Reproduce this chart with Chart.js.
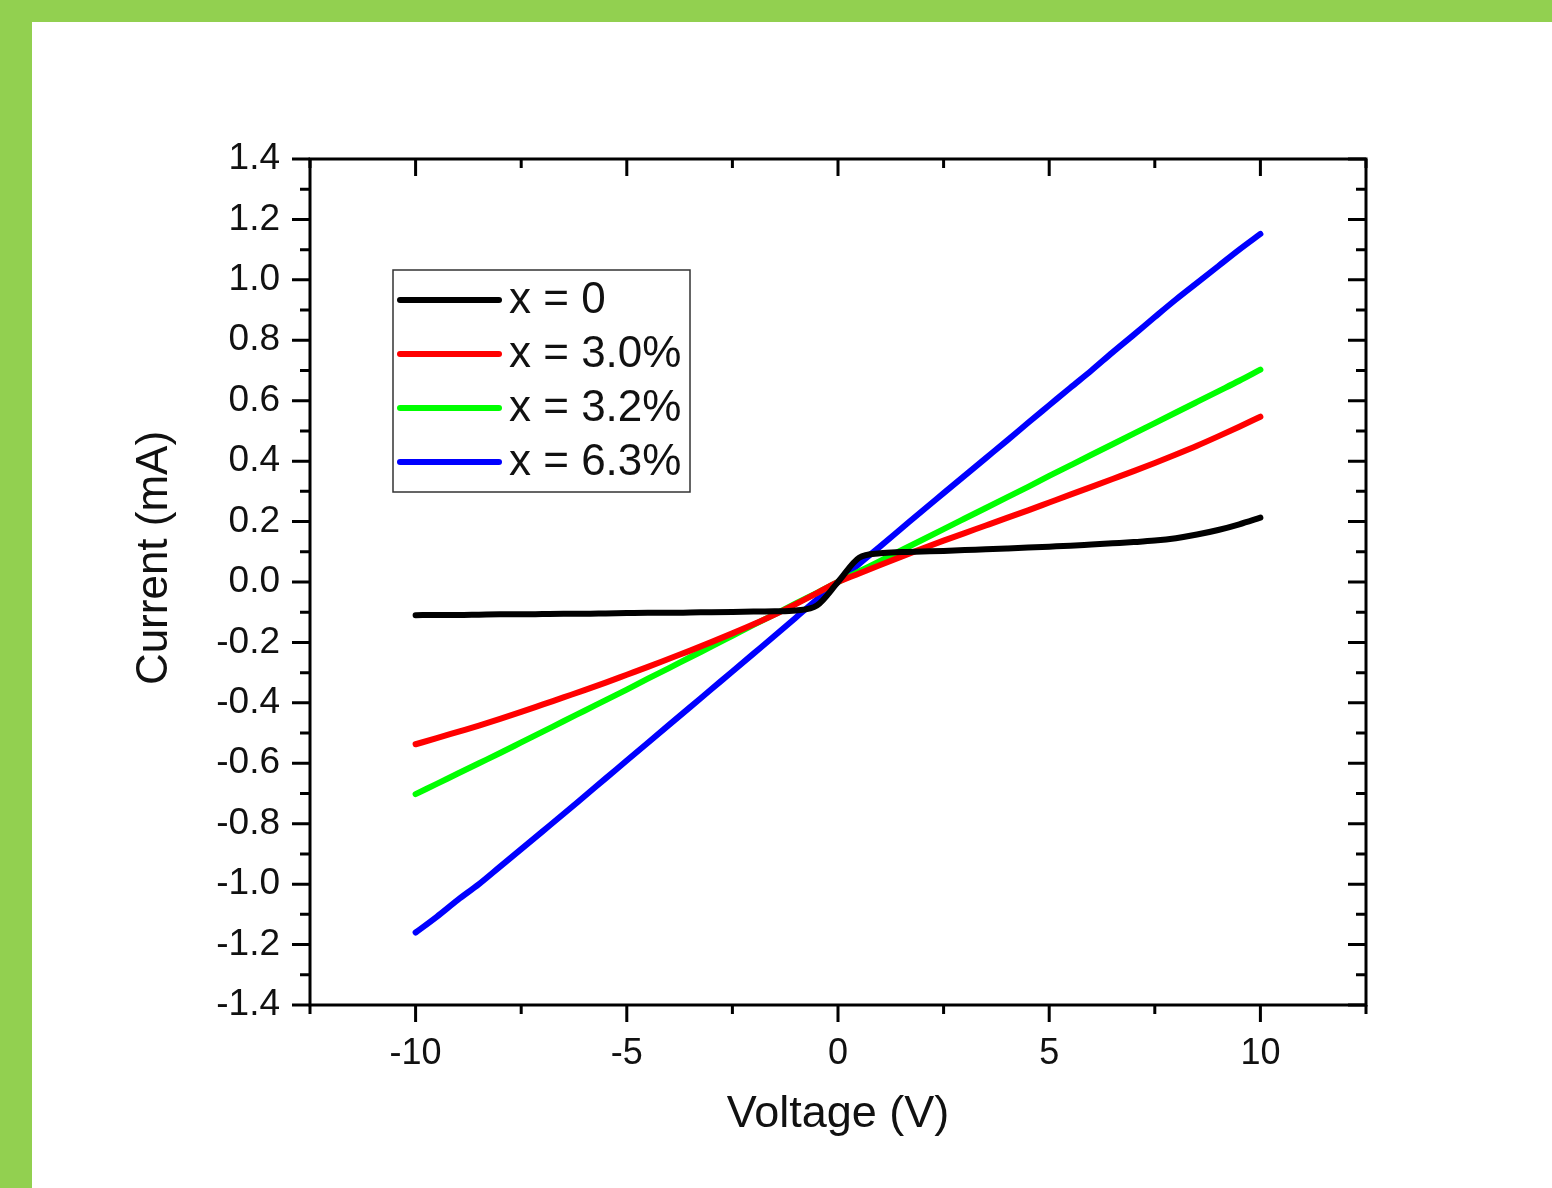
<!DOCTYPE html>
<html>
<head>
<meta charset="utf-8">
<title>Current vs Voltage</title>
<script src="https://cdn.jsdelivr.net/npm/chart.js@4.4.0/dist/chart.umd.min.js"></script>
<style>
  body { margin: 0; background: #92d050; width: 1552px; height: 1188px; overflow: hidden; }
  .sheet { position: absolute; left: 32px; top: 22px; width: 1520px; height: 1166px; background: #fff; }
</style>
</head>
<body>
<div class="sheet"><canvas id="ivChart" width="1520" height="1166"></canvas></div>
<script>
// sweep voltage (V), shared by all samples
const voltage = [-10, -9.5, -9, -8.5, -8, -7.5, -7, -6.5, -6, -5.5, -5, -4.5, -4, -3.5, -3, -2.5, -2, -1.5, -1, -0.5,
    0, 0.5, 1, 1.5, 2, 2.5, 3, 3.5, 4, 4.5, 5, 5.5, 6, 6.5, 7, 7.5, 8, 8.5, 9, 9.5, 10];

// current (mA) for each doping level
const currentX0 = [-0.110, -0.109, -0.109, -0.108, -0.107, -0.107, -0.106, -0.105, -0.105, -0.104, -0.103, -0.102, -0.102, -0.101, -0.100, -0.099, -0.098, -0.097, -0.094, -0.078,
    0.000, 0.080, 0.095, 0.099, 0.101, 0.103, 0.106, 0.108, 0.111, 0.114, 0.117, 0.120, 0.124, 0.128, 0.132, 0.137, 0.145, 0.157, 0.172, 0.191, 0.213];
const currentX30 = [-0.537, -0.517, -0.496, -0.475, -0.453, -0.430, -0.406, -0.382, -0.358, -0.333, -0.307, -0.281, -0.254, -0.227, -0.199, -0.170, -0.140, -0.108, -0.073, -0.037,
    0.000, 0.028, 0.056, 0.084, 0.111, 0.137, 0.162, 0.187, 0.212, 0.237, 0.263, 0.289, 0.315, 0.341, 0.367, 0.394, 0.422, 0.451, 0.482, 0.514, 0.547];
const currentX32 = [-0.702, -0.668, -0.634, -0.600, -0.566, -0.531, -0.496, -0.461, -0.426, -0.391, -0.356, -0.320, -0.285, -0.249, -0.214, -0.178, -0.142, -0.107, -0.071, -0.036,
    0.000, 0.035, 0.070, 0.105, 0.140, 0.175, 0.210, 0.245, 0.280, 0.315, 0.351, 0.386, 0.421, 0.456, 0.491, 0.526, 0.561, 0.596, 0.631, 0.666, 0.703];
const currentX63 = [-1.160, -1.108, -1.052, -1.000, -0.942, -0.884, -0.826, -0.768, -0.709, -0.650, -0.591, -0.532, -0.473, -0.414, -0.355, -0.296, -0.237, -0.178, -0.118, -0.058,
    0.000, 0.060, 0.118, 0.177, 0.236, 0.294, 0.352, 0.410, 0.468, 0.527, 0.585, 0.643, 0.700, 0.760, 0.818, 0.877, 0.935, 0.990, 1.045, 1.100, 1.152];

const seriesNames = ["x = 0", "x = 3.0%", "x = 3.2%", "x = 6.3%"];
const seriesColors = ["#000000", "#ff0000", "#00ff00", "#0000ff"];

const xMajorTicks = [-10, -5, 0, 5, 10];
const xMinorTicks = [-12.5, -7.5, -2.5, 2.5, 7.5, 12.5];
const yMajorTicks = [-1.4, -1.2, -1.0, -0.8, -0.6, -0.4, -0.2, 0.0, 0.2, 0.4, 0.6, 0.8, 1.0, 1.2, 1.4];
const yMinorTicks = [-1.3, -1.1, -0.9, -0.7, -0.5, -0.3, -0.1, 0.1, 0.3, 0.5, 0.7, 0.9, 1.1, 1.3];

const yTitle = "Current (mA)";
const fontFamily = '"Liberation Sans", Arial, sans-serif';
const textColor = "#111";

function makeSeries(values, i) {
    return {
        label: seriesNames[i],
        data: voltage.map((v, k) => ({ x: v, y: values[k] })),
        borderColor: seriesColors[i],
        borderWidth: 6,
        borderCapStyle: "round",
        borderJoinStyle: "round",
        cubicInterpolationMode: "monotone",
        pointRadius: 0,
        fill: false
    };
}

// box frame, in/out ticks on all four sides, the boxed legend and the y title
const axisFrame = {
    id: "axisFrame",
    afterDraw(chart) {
        const ctx = chart.ctx;
        const area = chart.chartArea;
        const xs = chart.scales.x;
        const ys = chart.scales.y;
        ctx.save();
        ctx.strokeStyle = "#000";
        ctx.lineWidth = 3;
        ctx.lineCap = "butt";

        function xTick(v, len) {
            const px = xs.getPixelForValue(v);
            ctx.beginPath();
            ctx.moveTo(px, area.bottom);
            ctx.lineTo(px, area.bottom + len);
            ctx.moveTo(px, area.top);
            ctx.lineTo(px, area.top + len);
            ctx.stroke();
        }
        function yTick(v, len) {
            const py = ys.getPixelForValue(v);
            ctx.beginPath();
            ctx.moveTo(area.left, py);
            ctx.lineTo(area.left - len, py);
            ctx.moveTo(area.right, py);
            ctx.lineTo(area.right - len, py);
            ctx.stroke();
        }
        xMajorTicks.forEach(v => xTick(v, 17));
        xMinorTicks.forEach(v => xTick(v, 9));
        yMajorTicks.forEach(v => yTick(v, 18));
        yMinorTicks.forEach(v => yTick(v, 10));

        ctx.strokeRect(area.left, area.top, area.right - area.left, area.bottom - area.top);

        // legend
        const lx = area.left + 83;
        const ly = area.top + 111;
        ctx.lineWidth = 1.5;
        ctx.strokeStyle = "#333";
        ctx.strokeRect(lx, ly, 297, 222);
        ctx.font = "44px " + fontFamily;
        ctx.textBaseline = "middle";
        ctx.textAlign = "left";
        ctx.fillStyle = textColor;
        chart.data.datasets.forEach((ds, i) => {
            const y = ly + 30 + i * 54;
            ctx.beginPath();
            ctx.strokeStyle = ds.borderColor;
            ctx.lineWidth = 6;
            ctx.lineCap = "round";
            ctx.moveTo(lx + 7, y);
            ctx.lineTo(lx + 106, y);
            ctx.stroke();
            ctx.fillText(ds.label, lx + 116, y + 1);
        });

        // vertical axis title, sitting a little above the axis centre
        ctx.translate(123, 536);
        ctx.rotate(-Math.PI / 2);
        ctx.textAlign = "center";
        ctx.font = "44px " + fontFamily;
        ctx.fillText(yTitle, 0, 0);
        ctx.restore();
    }
};

const ctx = document.getElementById("ivChart");

const config = {
    type: "line",
    data: {
        datasets: [
            makeSeries(currentX0, 0),
            makeSeries(currentX30, 1),
            makeSeries(currentX32, 2),
            makeSeries(currentX63, 3)
        ]
    },
    options: {
        responsive: false,
        animation: false,
        layout: { padding: { left: 0, top: 137, right: 186, bottom: 0 } },
        plugins: {
            legend: { display: false },
            tooltip: { enabled: false }
        },
        scales: {
            x: {
                type: "linear",
                position: "bottom",
                min: -12.5,
                max: 12.5,
                grid: { display: false },
                border: { display: false },
                afterBuildTicks: (scale) => { scale.ticks = xMajorTicks.map(v => ({ value: v })); },
                afterFit: (scale) => { scale.height = 183; },
                ticks: {
                    padding: 19,
                    color: textColor,
                    font: { family: fontFamily, size: 36 },
                    callback: (value) => String(value)
                },
                title: {
                    display: true,
                    text: "Voltage (V)",
                    color: textColor,
                    font: { family: fontFamily, size: 45 },
                    padding: { top: 0, bottom: 46 }
                }
            },
            y: {
                type: "linear",
                position: "left",
                min: -1.4,
                max: 1.4,
                grid: { display: false },
                border: { display: false },
                afterBuildTicks: (scale) => { scale.ticks = yMajorTicks.map(v => ({ value: v })); },
                afterFit: (scale) => { scale.width = 278; },
                ticks: {
                    padding: 22,
                    color: textColor,
                    font: { family: fontFamily, size: 37 },
                    callback: (value) => Number(value).toFixed(1)
                }
            }
        }
    },
    plugins: [axisFrame]
};

const myChart = new Chart(ctx, config);
</script>
</body>
</html>
